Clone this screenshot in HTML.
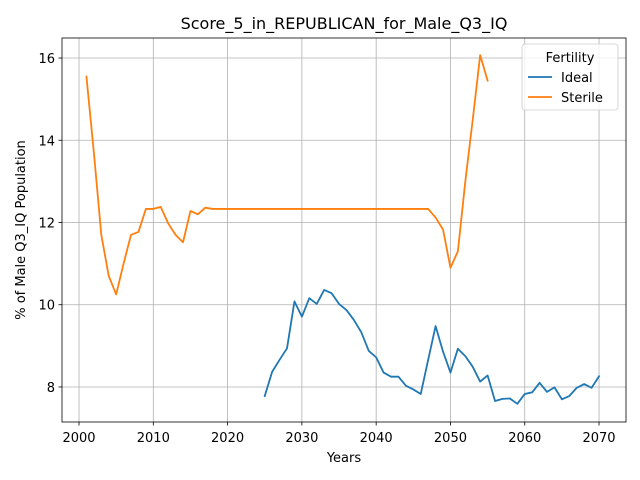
<!DOCTYPE html>
<html><head><meta charset="utf-8"><style>body{margin:0;background:#fff}svg{display:block;font-family:"DejaVu Sans","Liberation Sans",sans-serif}</style></head>
<body>
<svg id="chart" width="640" height="480" viewBox="0 0 640 480" xmlns="http://www.w3.org/2000/svg"></svg>
<script>
const xTicks=[2000,2010,2020,2030,2040,2050,2060,2070];
const yTicks=[8,10,12,14,16];
const sterileYears=[2001,2002,2003,2004,2005,2006,2007,2008,2009,2010,2011,2012,2013,2014,2015,2016,2017,2018,2019,2020,2021,2022,2023,2024,2025,2026,2027,2028,2029,2030,2031,2032,2033,2034,2035,2036,2037,2038,2039,2040,2041,2042,2043,2044,2045,2046,2047,2048,2049,2050,2051,2052,2053,2054,2055];
const sterileValues=[15.55,13.7,11.7,10.7,10.25,11.0,11.7,11.77,12.33,12.33,12.38,11.98,11.7,11.52,12.28,12.2,12.36,12.33,12.33,12.33,12.33,12.33,12.33,12.33,12.33,12.33,12.33,12.33,12.33,12.33,12.33,12.33,12.33,12.33,12.33,12.33,12.33,12.33,12.33,12.33,12.33,12.33,12.33,12.33,12.33,12.33,12.33,12.12,11.83,10.9,11.3,13.0,14.5,16.07,15.45];
const idealYears=[2025,2026,2027,2028,2029,2030,2031,2032,2033,2034,2035,2036,2037,2038,2039,2040,2041,2042,2043,2044,2045,2046,2047,2048,2049,2050,2051,2052,2053,2054,2055,2056,2057,2058,2059,2060,2061,2062,2063,2064,2065,2066,2067,2068,2069,2070];
const idealValues=[7.78,8.37,8.66,8.94,10.08,9.71,10.16,10.02,10.36,10.28,10.02,9.87,9.63,9.33,8.88,8.72,8.35,8.25,8.25,8.03,7.94,7.83,8.66,9.48,8.86,8.35,8.93,8.75,8.49,8.13,8.28,7.66,7.71,7.72,7.59,7.83,7.87,8.10,7.88,7.99,7.70,7.78,7.98,8.07,7.98,8.26];

const L=62,R=626,T=38,B=422;
const x0=1997.71,x1=2073.63,y0=7.148,y1=16.487;
const X=v=>L+(v-x0)/(x1-x0)*(R-L);
const Y=v=>B-(v-y0)/(y1-y0)*(B-T);
const svg=document.getElementById('chart');
const NS='http://www.w3.org/2000/svg';
function mk(tag,attrs,parent){const e=document.createElementNS(NS,tag);for(const k in attrs)e.setAttribute(k,attrs[k]);(parent||svg).appendChild(e);return e;}

let bg=mk('rect',{x:L,y:T,width:R-L,height:B-T,fill:'#fff'});


xTicks.forEach(t=>{
  let g=mk('line',{x1:X(t),x2:X(t),y1:T,y2:B,stroke:'#b0b0b0','stroke-width':0.8});
  
  
  mk('line',{x1:X(t),x2:X(t),y1:B,y2:B+3.5,stroke:'#000','stroke-width':0.8});
  let tx=mk('text',{x:X(t),y:B+20,'font-size':13,'text-anchor':'middle',fill:'#000'});
  tx.textContent=t;
  
  
});
yTicks.forEach(t=>{
  let g=mk('line',{x1:L,x2:R,y1:Y(t),y2:Y(t),stroke:'#b0b0b0','stroke-width':0.8});
  
  
  mk('line',{x1:L-3.5,x2:L,y1:Y(t),y2:Y(t),stroke:'#000','stroke-width':0.8});
  let tx=mk('text',{x:L-7,y:Y(t)+5,'font-size':13,'text-anchor':'end',fill:'#000'});
  tx.textContent=t;
  
  
});
function line(xs,ys,color,name){
  const p=mk('polyline',{points:xs.map((v,i)=>X(v)+','+Y(ys[i])).join(' '),fill:'none',stroke:color,'stroke-width':1.8,'stroke-linejoin':'round','stroke-linecap':'square'});
  
  
}
line(idealYears,idealValues,'#1f77b4','ideal-line');
line(sterileYears,sterileValues,'#ff7f0e','sterile-line');
let fr=mk('rect',{x:L,y:T,width:R-L,height:B-T,fill:'none',stroke:'#000','stroke-width':0.8});


let ti=mk('text',{x:(L+R)/2,y:T-9,'font-size':16,'text-anchor':'middle'});
ti.textContent='Score_5_in_REPUBLICAN_for_Male_Q3_IQ';


let xl=mk('text',{x:(L+R)/2,y:462,'font-size':13,'text-anchor':'middle'});
xl.textContent='Years';


let yl=mk('text',{x:0,y:0,'font-size':13,'text-anchor':'middle',transform:`translate(25,${(T+B)/2}) rotate(-90)`});
yl.textContent='% of Male Q3_IQ Population';


const lg=mk('g',{});


mk('rect',{x:522,y:44,width:96,height:66,rx:3,fill:'#fff','fill-opacity':0.8,stroke:'#ccc','stroke-width':0.8},lg);
let lt=mk('text',{x:570,y:62,'font-size':13,'text-anchor':'middle'},lg);lt.textContent='Fertility';
[['Ideal','#1f77b4',77],['Sterile','#ff7f0e',97]].forEach(([n,c,yy])=>{
  const e=mk('g',{},lg);
  
  
  mk('line',{x1:528,x2:552,y1:yy,y2:yy,stroke:c,'stroke-width':1.8},e);
  let t=mk('text',{x:561,y:yy+5,'font-size':13},e);t.textContent=n;
});
</script>
</body></html>
